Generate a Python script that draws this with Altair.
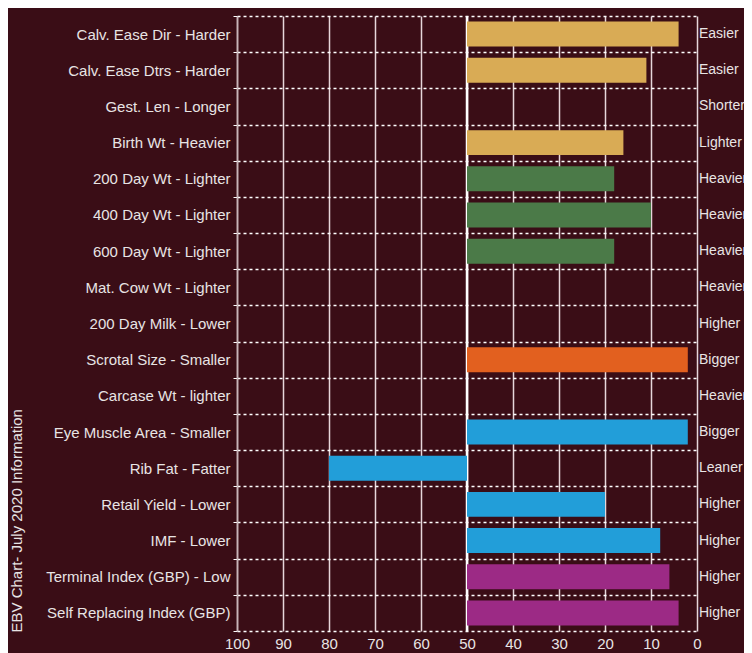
import altair as alt
import pandas as pd

traits = [
    "Calv. Ease Dir - Harder",
    "Calv. Ease Dtrs - Harder",
    "Gest. Len - Longer",
    "Birth Wt - Heavier",
    "200 Day Wt - Lighter",
    "400 Day Wt - Lighter",
    "600 Day Wt - Lighter",
    "Mat. Cow Wt - Lighter",
    "200 Day Milk - Lower",
    "Scrotal Size - Smaller",
    "Carcase Wt - lighter",
    "Eye Muscle Area - Smaller",
    "Rib Fat - Fatter",
    "Retail Yield - Lower",
    "IMF - Lower",
    "Terminal Index (GBP) -  Low",
    "Self Replacing Index (GBP)",
]
right_labels = [
    "Easier", "Easier", "Shorter", "Lighter", "Heavier", "Heavier", "Heavier",
    "Heavier", "Higher", "Bigger", "Heavier", "Bigger", "Leaner", "Higher",
    "Higher", "Higher", "Higher",
]
bar_end = [4, 11, None, 16, 18, 10, 18, None, None, 2, None, 2, 80, 20, 8, 6, 4]
groups = [
    "Calving", "Calving", "Calving", "Calving", "Growth", "Growth", "Growth",
    "Growth", "Milk", "Fertility", "Carcase", "Carcase", "Carcase", "Carcase",
    "Carcase", "Index", "Index",
]
group_names = ["Calving", "Growth", "Milk", "Fertility", "Carcase", "Index"]
group_colors = ["#D9AB55", "#4B7A48", "#4B7A48", "#E2601F", "#229ED9", "#9C2A85"]
midpoint = 50
x_ticks = list(range(0, 101, 10))

BG = "#3A0D16"
TXT = "#E8E4E4"
FONT = "Liberation Sans"
FS = 15
W, H = 460, 615

df = pd.DataFrame({"trait": traits, "right": right_labels, "end": bar_end, "group": groups})
df["start"] = midpoint
bars_df = df.dropna(subset=["end"])
mid_df = pd.DataFrame({"mid": [midpoint]})

xscale = alt.Scale(domain=[100, 0])
yenc = alt.Y(
    "trait:N",
    sort=traits,
    scale=alt.Scale(paddingInner=0, paddingOuter=0),
    axis=alt.Axis(
        title="EBV Chart- July 2020 Information",
        titleAngle=270,
        titleX=-221,
        titleY=616,
        titleAlign="left",
        titleBaseline="middle",
        titleFontSize=FS,
        titleFontWeight="normal",
        titleColor=TXT,
        titleFont=FONT,
        labelFontSize=FS,
        labelColor=TXT,
        labelFont=FONT,
        labelPadding=3,
        labelLimit=300,
        tickBand="extent",
        tickSize=4,
        tickColor="#FFFFFF",
        grid=True,
        gridDash=[3, 3],
        gridColor="#FFFFFF",
        gridWidth=1.3,
        domain=True,
        domainColor="#C8B4B8",
        domainWidth=1.5,
    ),
)

grid = alt.Chart(mid_df).mark_rule(opacity=0).encode(
    x=alt.X(
        "mid:Q",
        scale=xscale,
        axis=alt.Axis(
            title=None,
            values=x_ticks,
            ticks=False,
            domain=False,
            grid=True,
            gridColor="#E6D6DA",
            gridWidth=1.5,
            labelFontSize=FS,
            labelColor=TXT,
            labelFont=FONT,
            labelPadding=5,
            labelFlush=False,
        ),
    )
)

mid_rule = alt.Chart(mid_df).mark_rule(color="#FFFFFF", strokeWidth=2.5).encode(
    x=alt.X("mid:Q", scale=xscale)
)

bars = alt.Chart(bars_df).mark_bar(height={"band": 0.69}).encode(
    x=alt.X("start:Q", scale=xscale),
    x2="end:Q",
    y=yenc,
    color=alt.Color(
        "group:N",
        scale=alt.Scale(domain=group_names, range=group_colors),
        legend=None,
    ),
)

right_text = alt.Chart(df).mark_text(
    align="left", baseline="middle", fontSize=14, color=TXT, font=FONT
).encode(
    x=alt.value(W + 2),
    y=alt.Y("trait:N", sort=traits),
    text="right:N",
)

chart = (
    alt.layer(grid, mid_rule, bars, right_text)
    .properties(
        width=W,
        height=H,
        background=BG,
        padding={"left": 229, "top": 8, "right": 47, "bottom": 22},
        autosize=alt.AutoSizeParams(type="none"),
    )
    .configure_view(stroke=None)
)

chart.save("out.html", embed_options={"renderer": "svg", "actions": False})
